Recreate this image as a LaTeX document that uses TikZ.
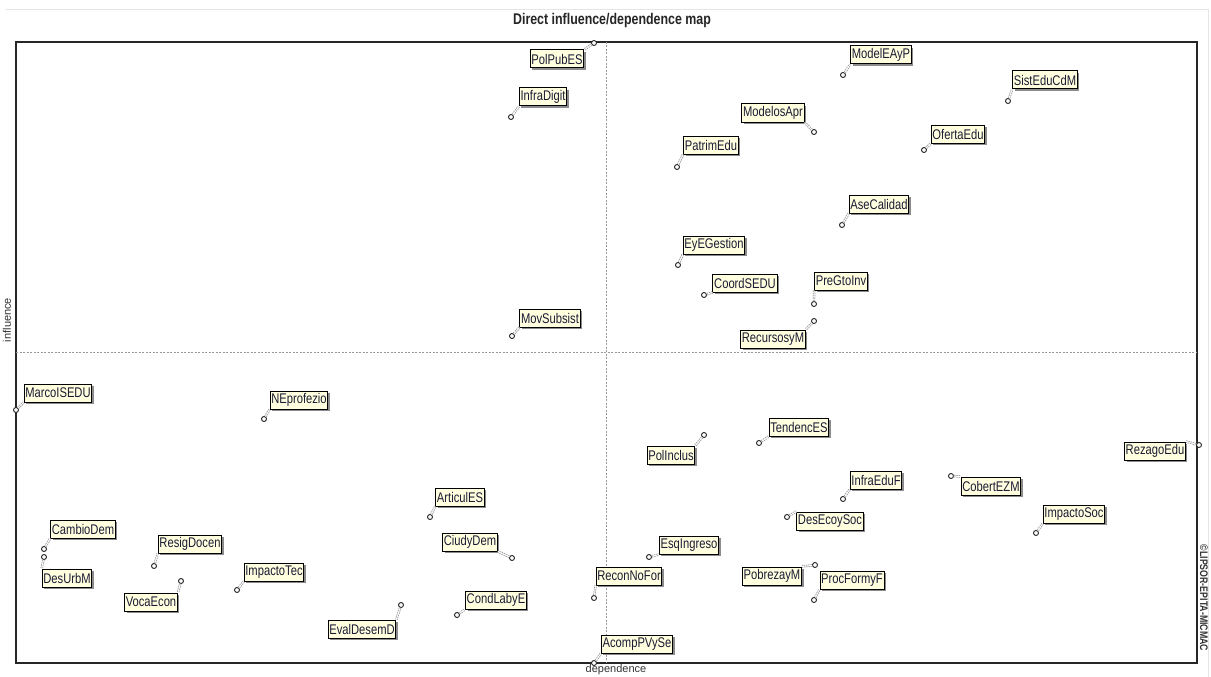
\documentclass[tikz,border=0pt]{standalone}
\usepackage{fontspec}
\setmainfont{Liberation Sans}
\newfontfamily\labfont[FakeStretch=0.8]{Liberation Sans}
\usetikzlibrary{shadows}
\definecolor{cream}{HTML}{FFFFE0}
\definecolor{labtext}{HTML}{1A1A33}
\tikzset{
  lbl/.style={draw=black, line width=1pt, fill=cream, font=\labfont\fontsize{14}{14}\selectfont, text=labtext,
    inner xsep=1.2pt, inner ysep=0pt, minimum height=18pt, anchor=center,
    drop shadow={shadow xshift=2pt, shadow yshift=-2pt, fill=gray!80!black, opacity=0.75}},
  pt/.style={circle, draw=gray!30!black, fill=white, line width=0.9pt, minimum size=5pt, inner sep=0pt},
  conA/.style={draw=gray!85, line width=2.4pt, dash pattern=on 1.5pt off 0.8pt},
  conB/.style={draw=white, line width=0.9pt},
  axis/.style={draw=gray!80, line width=0.6pt, dash pattern=on 2pt off 1.5pt},
}
% #1 name, #2 text, #3 lx, #4 ly, #5 px, #6 py, #7 anchor of label
\newcommand\micvar[7]{%
  \node[pt] (#1p) at (#5,#6) {};
  \node[lbl] (#1) at (#3,#4) {#2};
  \draw[conA] (#1p) -- (#1.#7);
  \draw[conB] (#1p) -- (#1.#7);
}
\begin{document}
\begin{tikzpicture}[x=1pt,y=-1pt]
\useasboundingbox (0,0) rectangle (1211,677);
\fill[white] (0,0) rectangle (1211,677);
% faint outer lines
\draw[gray!20, line width=0.8pt] (6,9) -- (1208,9) -- (1208,677);
% title
\node[font=\labfont\bfseries\fontsize{15.5}{15.5}\selectfont, text=black!85] (title) at (612,20) {Direct influence/dependence map};
% frame
\draw[black!85, line width=1.2pt] (16,42) rectangle (1197,663);
% axes
\draw[axis] (606,42) -- (606,663);
\draw[axis] (16,352) -- (1197,352);
% axis labels
\node[font=\fontsize{11}{11}\selectfont, text=black!80, inner sep=0pt] (dep) at (616,670) {dependence};
\node[font=\fontsize{11}{11}\selectfont, text=black!80, rotate=90, inner sep=0pt] (inf) at (7,320) {influence};
\node[font=\labfont\bfseries\fontsize{11}{11}\selectfont, text=black!80, rotate=-90] (copy) at (1204,598) {©LIPSOR-EPITA-MICMAC};
% variables
\micvar{PolPubES}{PolPubES}{557}{59}{594}{43}{north east}
\micvar{InfraDigit}{InfraDigit}{543}{97}{511}{117}{south west}
\micvar{MovSubsist}{MovSubsist}{550}{318}{512}{336}{south west}
\micvar{ModelEAyP}{ModelEAyP}{881}{55}{843}{75}{south west}
\micvar{SistEduCdM}{SistEduCdM}{1045}{80}{1008}{101}{south west}
\micvar{ModelosApr}{ModelosApr}{773}{113}{814}{132}{south east}
\micvar{OfertaEdu}{OfertaEdu}{958}{134}{924}{150}{south west}
\micvar{PatrimEdu}{PatrimEdu}{711}{145}{677}{167}{south west}
\micvar{AseCalidad}{AseCalidad}{879}{204}{842}{225}{south west}
\micvar{EyEGestion}{EyEGestion}{714}{245}{678}{265}{south west}
\micvar{CoordSEDU}{CoordSEDU}{745}{283}{704}{295}{south west}
\micvar{PreGtoInv}{PreGtoInv}{841}{281}{814}{304}{south west}
\micvar{RecursosyM}{RecursosyM}{773}{339}{814}{321}{north east}
\micvar{MarcoISEDU}{MarcoISEDU}{58}{393}{16}{410}{south west}
\micvar{NEprofezio}{NEprofezio}{299}{400}{264}{419}{south west}
\micvar{TendencES}{TendencES}{799}{427}{759}{443}{south west}
\micvar{PolInclus}{PolInclus}{671}{455}{704}{435}{north east}
\micvar{RezagoEdu}{RezagoEdu}{1155}{451}{1199}{445}{north east}
\micvar{InfraEduF}{InfraEduF}{876}{480}{843}{499}{south west}
\micvar{CobertEZM}{CobertEZM}{991}{486}{951}{476}{north west}
\micvar{ArticulES}{ArticulES}{460}{497}{430}{517}{south west}
\micvar{ImpactoSoc}{ImpactoSoc}{1074}{514}{1036}{533}{south west}
\micvar{DesEcoySoc}{DesEcoySoc}{830}{521}{787}{517}{north west}
\micvar{CambioDem}{CambioDem}{83}{529}{44}{549}{south west}
\micvar{DesUrbM}{DesUrbM}{67}{578}{44}{557}{north west}
\micvar{ResigDocen}{ResigDocen}{190}{544}{154}{566}{south west}
\micvar{CiudyDem}{CiudyDem}{470}{542}{512}{558}{south east}
\micvar{EsqIngreso}{EsqIngreso}{689}{545}{649}{557}{south west}
\micvar{ImpactoTec}{ImpactoTec}{274}{572}{237}{590}{south west}
\micvar{VocaEcon}{VocaEcon}{151}{602}{181}{581}{north east}
\micvar{ReconNoFor}{ReconNoFor}{629}{576}{594}{598}{south west}
\micvar{PobrezayM}{PobrezayM}{772}{576}{815}{565}{north east}
\micvar{ProcFormyF}{ProcFormyF}{852}{580}{814}{600}{south west}
\micvar{CondLabyE}{CondLabyE}{496}{600}{457}{615}{south west}
\micvar{EvalDesemD}{EvalDesemD}{362}{629}{401}{605}{north east}
\micvar{AcompPVySe}{AcompPVySe}{637}{644}{594}{663}{south west}
\end{tikzpicture}
\end{document}
